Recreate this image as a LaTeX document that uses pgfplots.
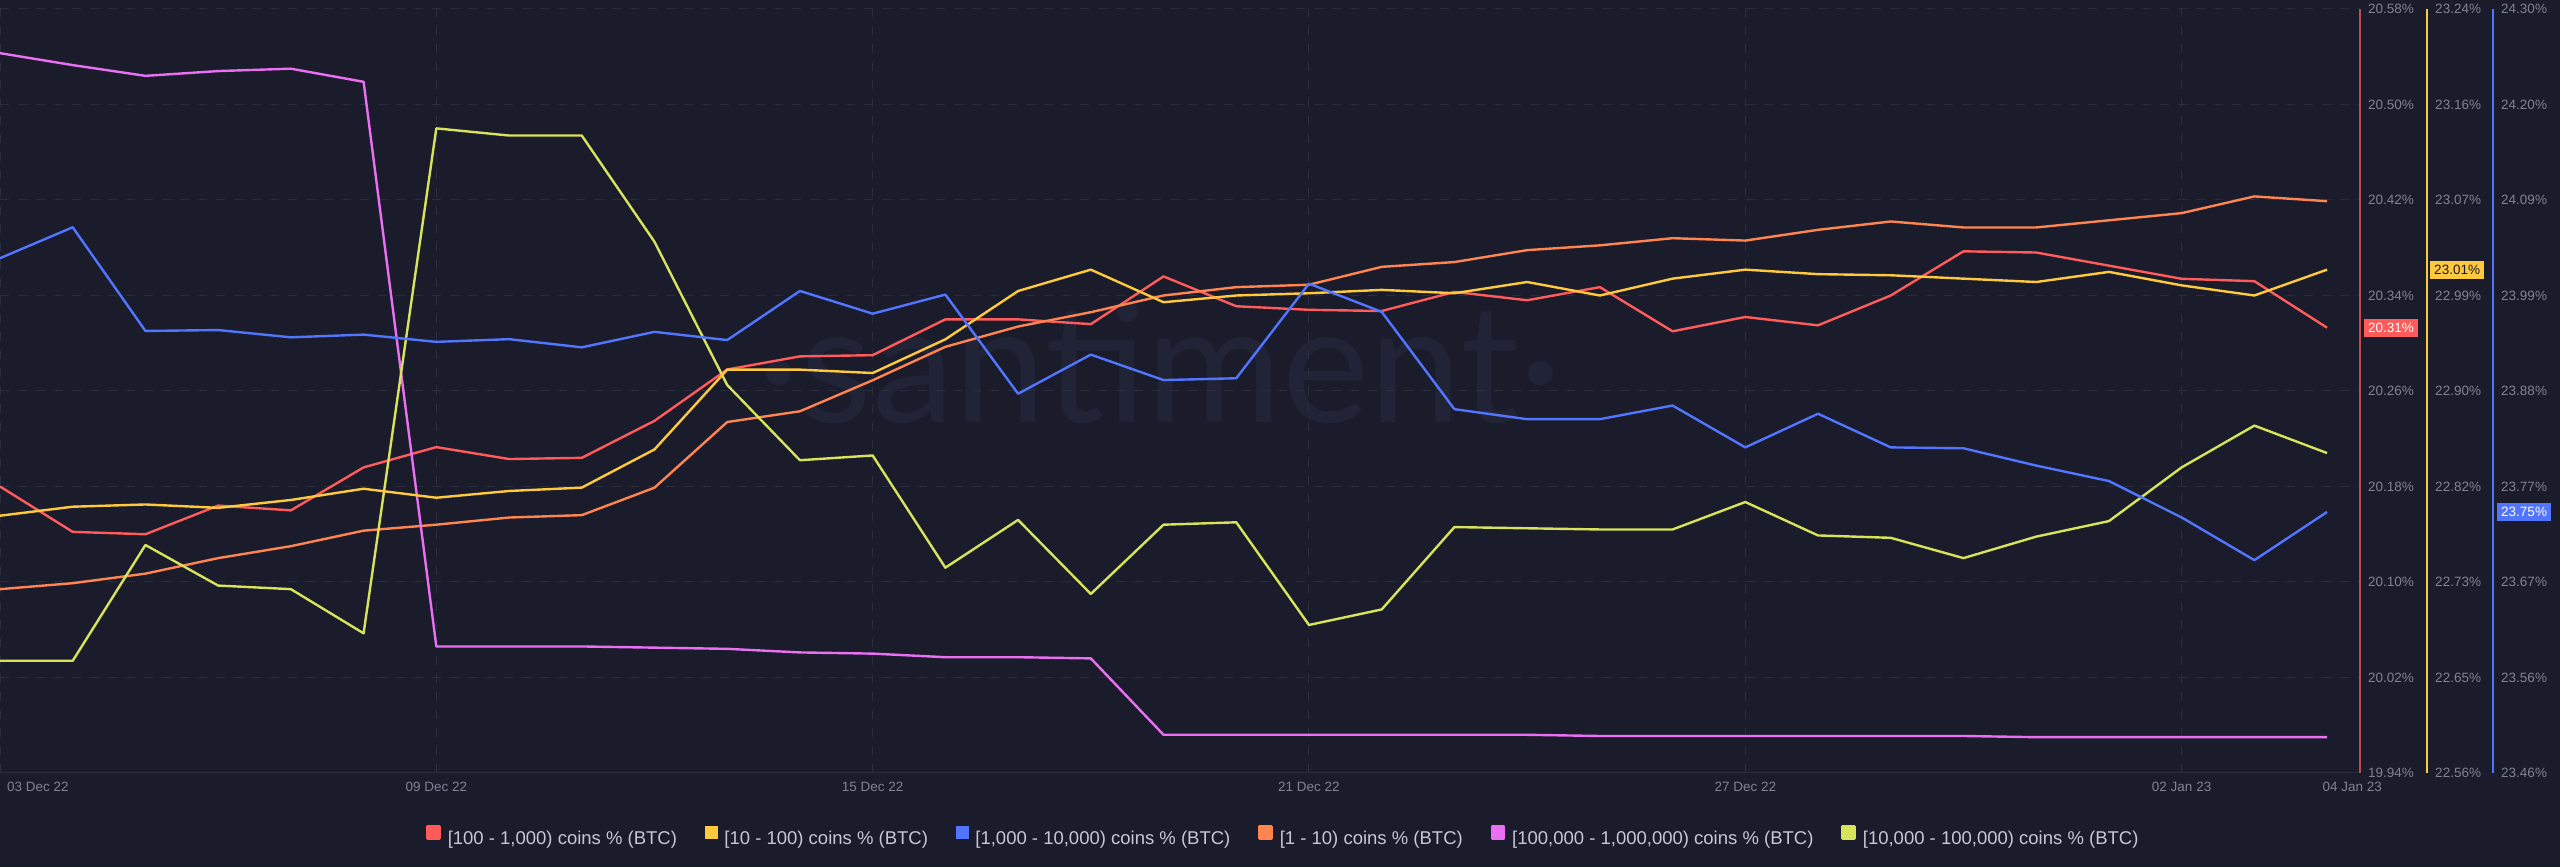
\documentclass[border=0pt]{standalone}
\usepackage{pgfplots}
\pgfplotsset{compat=1.18}
\usepackage{pgfplotstable}
\usepackage{fontspec}
\setmainfont{Liberation Sans}
\newfontfamily\wmfont{Lato}
\definecolor{bgc}{HTML}{1A1C2B}
\definecolor{gridc}{HTML}{2A2D3E}
\definecolor{tickc}{HTML}{7E8294}
\definecolor{legc}{HTML}{C5C8D4}
\definecolor{wmc}{HTML}{212436}
\definecolor{cred}{HTML}{FF5B5B}
\definecolor{redax}{HTML}{C44A52}
\definecolor{cyellow}{HTML}{FFC93D}
\definecolor{cblue}{HTML}{5275FF}
\definecolor{corange}{HTML}{FF8450}
\definecolor{cpink}{HTML}{EA6FF2}
\definecolor{clime}{HTML}{D7E35A}
\newcommand\tickfont{\fontsize{13.5pt}{16pt}\selectfont}
\newcommand\legfont{\fontsize{18.5pt}{21pt}\selectfont}
\pgfplotsset{
  sqlegend/.style={legend image code/.code={\fill[##1] (0pt,0.5pt) rectangle (12pt,12.5pt);}},
  ser/.style={line width=2.4pt, line join=round, mark=none},
}
\pgfplotstableread{
day red yellow blue orange pink lime
0 20.180 22.789 24.026 20.094 20.543 20.034
1 20.142 22.797 24.060 20.099 20.533 20.034
2 20.140 22.799 23.946 20.107 20.524 20.131
3 20.164 22.796 23.947 20.120 20.528 20.097
4 20.160 22.803 23.939 20.130 20.530 20.094
5 20.196 22.813 23.942 20.143 20.519 20.057
6 20.213 22.805 23.934 20.148 20.046 20.480
7 20.203 22.811 23.937 20.154 20.046 20.474
8 20.204 22.814 23.928 20.156 20.046 20.474
9 20.235 22.848 23.945 20.179 20.045 20.385
10 20.278 22.919 23.936 20.234 20.044 20.265
11 20.289 22.919 23.990 20.243 20.041 20.202
12 20.290 22.916 23.965 20.269 20.040 20.206
13 20.320 22.946 23.986 20.297 20.037 20.112
14 20.320 22.989 23.877 20.314 20.037 20.152
15 20.316 23.008 23.920 20.326 20.036 20.090
16 20.356 22.979 23.892 20.340 19.972 20.148
17 20.331 22.985 23.894 20.347 19.972 20.150
18 20.328 22.987 23.998 20.349 19.972 20.064
19 20.327 22.990 23.967 20.364 19.972 20.077
20 20.343 22.987 23.860 20.368 19.972 20.146
21 20.336 22.997 23.849 20.378 19.972 20.145
22 20.347 22.985 23.849 20.382 19.971 20.144
23 20.310 23.000 23.864 20.388 19.971 20.144
24 20.322 23.008 23.818 20.386 19.971 20.167
25 20.315 23.004 23.855 20.395 19.971 20.139
26 20.340 23.003 23.818 20.402 19.971 20.137
27 20.377 23.000 23.817 20.397 19.971 20.120
28 20.376 22.997 23.798 20.397 19.970 20.138
29 20.365 23.006 23.781 20.403 19.970 20.151
30 20.354 22.994 23.741 20.409 19.970 20.196
31 20.352 22.985 23.694 20.423 19.970 20.231
32 20.313 23.008 23.747 20.419 19.970 20.208
}\data
\begin{document}
\begin{tikzpicture}
\path[use as bounding box] (0pt,0pt) rectangle (2560pt,867pt);
\fill[bgc] (0pt,0pt) rectangle (2560pt,867pt);
\node[font=\wmfont\fontsize{165pt}{170pt}\selectfont, text=wmc, anchor=base, inner sep=0pt] at (1160pt,444pt) {·santiment·};
% axis 1 (red scale) with hidden series
\begin{axis}[
  scale only axis, width=2360pt, height=764pt, at={(0pt,94pt)}, anchor=south west,
  xmin=0, xmax=32.453, ymin=19.94, ymax=20.58, clip=false,
  axis x line*=bottom, axis y line*=right,
  x axis line style={draw=gridc, line width=1pt, -},
  y axis line style={draw=redax, line width=1.5pt, -},
  xtick={0,6,12,18,24,30},
  xticklabels={,09 Dec 22,15 Dec 22,21 Dec 22,27 Dec 22,02 Jan 23},
  ytick={19.94,20.02,20.10,20.18,20.26,20.34,20.42,20.50,20.58},
  yticklabels={19.94\%,20.02\%,20.10\%,20.18\%,20.26\%,20.34\%,20.42\%,20.50\%,20.58\%},
  xmajorgrids, ymajorgrids,
  major grid style={draw=gridc, line width=1pt, dash pattern=on 9pt off 9pt},
  major tick length=0pt, tick style={draw=none},
  tick label style={font=\tickfont, text=tickc, inner sep=0pt},
  yticklabel style={anchor=base west, xshift=8pt, yshift=-4.8pt},
  xticklabel style={anchor=base, yshift=-19pt},
  sqlegend,
  legend columns=6,
  legend style={at={(0.5434,-0.0822)}, anchor=center, draw=none, fill=none,
    font=\legfont, text=legc, nodes={inner sep=0pt},
    /tikz/every odd column/.append style={column sep=7pt},
    /tikz/every even column/.append style={column sep=28pt}},
]
\addplot[ser, color=cred] table[x=day, y=red] {\data};
\addlegendentry{[100 - 1,000) coins \% (BTC)}
\addlegendimage{color=cyellow}
\addlegendentry{[10 - 100) coins \% (BTC)}
\addlegendimage{color=cblue}
\addlegendentry{[1,000 - 10,000) coins \% (BTC)}
\addplot[ser, color=corange] table[x=day, y=orange] {\data};
\addlegendentry{[1 - 10) coins \% (BTC)}
\addplot[ser, color=cpink] table[x=day, y=pink] {\data};
\addlegendentry{[100,000  - 1,000,000) coins \% (BTC)}
\addplot[ser, color=clime] table[x=day, y=lime] {\data};
\addlegendentry{[10,000 - 100,000) coins \% (BTC)}
\node[fill=cred, text=white, font=\tickfont, inner xsep=4pt, inner ysep=4.2pt, text height=9.7pt, text depth=0pt, anchor=west, xshift=4pt] at (axis cs:32.453,20.313) {20.31\%};
\end{axis}
% axis 2 (yellow)
\begin{axis}[
  scale only axis, width=2427pt, height=764pt, at={(0pt,94pt)}, anchor=south west,
  xmin=0, xmax=33.374, ymin=22.56, ymax=23.24, clip=false,
  axis x line=none, axis y line*=right,
  y axis line style={draw=cyellow, line width=1.5pt, -},
  xtick=\empty,
  ytick={22.56,22.645,22.73,22.815,22.90,22.985,23.07,23.155,23.24},
  yticklabels={22.56\%,22.65\%,22.73\%,22.82\%,22.90\%,22.99\%,23.07\%,23.16\%,23.24\%},
  major tick length=0pt, tick style={draw=none},
  tick label style={font=\tickfont, text=tickc, inner sep=0pt},
  yticklabel style={anchor=base west, xshift=8pt, yshift=-4.8pt},
]
\addplot[ser, color=cyellow] table[x=day, y=yellow] {\data};
\node[fill=cyellow, text=bgc, font=\tickfont, inner xsep=4pt, inner ysep=4.2pt, text height=9.7pt, text depth=0pt, anchor=west, xshift=3pt] at (axis cs:33.374,23.008) {23.01\%};
\end{axis}
% axis 3 (blue)
\begin{axis}[
  scale only axis, width=2493pt, height=764pt, at={(0pt,94pt)}, anchor=south west,
  xmin=0, xmax=34.282, ymin=23.46, ymax=24.30, clip=false,
  axis x line=none, axis y line*=right,
  y axis line style={draw=cblue, line width=1.5pt, -},
  xtick=\empty,
  ytick={23.46,23.565,23.67,23.775,23.88,23.985,24.09,24.195,24.30},
  yticklabels={23.46\%,23.56\%,23.67\%,23.77\%,23.88\%,23.99\%,24.09\%,24.20\%,24.30\%},
  major tick length=0pt, tick style={draw=none},
  tick label style={font=\tickfont, text=tickc, inner sep=0pt},
  yticklabel style={anchor=base west, xshift=8pt, yshift=-4.8pt},
]
\addplot[ser, color=cblue] table[x=day, y=blue] {\data};
\node[fill=cblue, text=white, font=\tickfont, inner xsep=4pt, inner ysep=4.2pt, text height=9.7pt, text depth=0pt, anchor=west, xshift=4pt] at (axis cs:34.282,23.747) {23.75\%};
\end{axis}
\node[anchor=base west, font=\tickfont, text=tickc, inner sep=0pt] at (7pt,75pt) {03 Dec 22};
\node[anchor=base east, font=\tickfont, text=tickc, inner sep=0pt] at (2382pt,75pt) {04 Jan 23};
\end{tikzpicture}
\end{document}
